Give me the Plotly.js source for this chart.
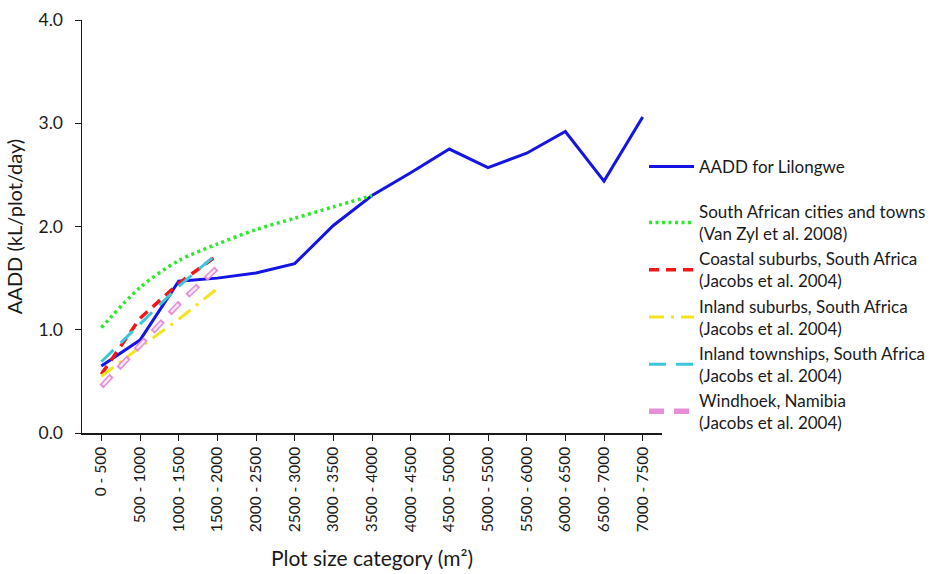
<!DOCTYPE html>
<html>
<head>
<meta charset="utf-8">
<script src="https://cdn.plot.ly/plotly-3.0.1.min.js"></script>
<style>
  html, body { margin: 0; padding: 0; background: #ffffff; }
  #chart { width: 939px; height: 574px; }
</style>
</head>
<body>
<div id="chart"></div>
<script>
// Plot size categories (m²)
const categories = [
  "0 - 500", "500 - 1000", "1000 - 1500", "1500 - 2000", "2000 - 2500",
  "2500 - 3000", "3000 - 3500", "3500 - 4000", "4000 - 4500", "4500 - 5000",
  "5000 - 5500", "5500 - 6000", "6000 - 6500", "6500 - 7000", "7000 - 7500"
];

// Average annual daily demand, kL/plot/day
const lilongwe = [0.65, 0.90, 1.47, 1.50, 1.55, 1.64, 2.01, 2.30, 2.52, 2.75, 2.57, 2.71, 2.92, 2.44, 3.06];
const saCitiesTowns = [1.02, 1.41, 1.67, 1.83, 1.97, 2.08, 2.19, 2.30];
const coastalSuburbs = [0.57, 1.11, 1.45, 1.72];
const inlandSuburbs = [0.55, 0.83, 1.10, 1.40];
const inlandTownships = [0.69, 1.05, 1.42, 1.74];
const windhoek = [0.45, 0.85, 1.25, 1.60];

const yTicks = [0, 1, 2, 3, 4];

const FONT = "Lato, 'Open Sans', sans-serif";

function xs(vals) { return categories.slice(0, vals.length); }

const traces = [
  {
    x: xs(lilongwe), y: lilongwe, type: "scatter", mode: "lines",
    name: "AADD for Lilongwe", legendgroup: "a",
    line: { color: "#1414e6", width: 3 }
  },
  {
    x: xs(saCitiesTowns), y: saCitiesTowns, type: "scatter", mode: "lines",
    name: "South African cities and towns<br>(Van Zyl et al. 2008)", legendgroup: "b",
    line: { color: "#2ee82e", width: 3.5, dash: "3px,3.5px", shape: "spline", smoothing: 0.8 }
  },
  {
    x: xs(coastalSuburbs), y: coastalSuburbs, type: "scatter", mode: "lines",
    name: "Coastal suburbs, South Africa<br>(Jacobs et al. 2004)", legendgroup: "b",
    line: { color: "#f01818", width: 3.5, dash: "10px,7px" }
  },
  {
    x: xs(inlandSuburbs), y: inlandSuburbs, type: "scatter", mode: "lines",
    name: "Inland suburbs, South Africa<br>(Jacobs et al. 2004)", legendgroup: "b",
    line: { color: "#f2e41e", width: 3, dash: "15px,7px,3px,7px" }
  },
  {
    x: xs(inlandTownships), y: inlandTownships, type: "scatter", mode: "lines",
    name: "Inland townships, South Africa<br>(Jacobs et al. 2004)", legendgroup: "b",
    line: { color: "#3cc6dc", width: 3, dash: "17px,10px" }
  },
  // Windhoek: outlined dashes (pink rim with pale fill)
  {
    x: xs(windhoek), y: windhoek, type: "scatter", mode: "lines",
    name: "Windhoek, Namibia<br>(Jacobs et al. 2004)", legendgroup: "b",
    line: { color: "#e68ed6", width: 5.5, dash: "15px,10px" }
  },
  {
    x: xs(windhoek), y: windhoek, type: "scatter", mode: "lines",
    name: "Windhoek fill", showlegend: false, hoverinfo: "skip",
    line: { color: "#fde6f6", width: 2.5, dash: "0.1px,2px,10.9px,12px" }
  }
];

const layout = {
  width: 939, height: 574,
  paper_bgcolor: "#ffffff", plot_bgcolor: "#ffffff",
  margin: { l: 82, r: 277, t: 20, b: 141, autoexpand: false },
  font: { family: FONT, size: 16, color: "#1a1a1a" },
  showlegend: true,
  legend: {
    x: 0.969, xanchor: "left", y: 0.688, yanchor: "top",
    traceorder: "grouped", tracegroupgap: 20, itemwidth: 45,
    bgcolor: "rgba(0,0,0,0)", font: { family: FONT, size: 17, color: "#1a1a1a" }
  },
  xaxis: {
    type: "category", categoryorder: "array", categoryarray: categories,
    range: [-0.5, 14.5], tickangle: -90,
    showline: true, linecolor: "#1a1a1a", linewidth: 1.5,
    ticks: "outside", ticklen: 6, tickcolor: "#1a1a1a",
    showgrid: false, zeroline: false,
    tickfont: { family: FONT, size: 15.5 },
    title: { text: "Plot size category (m²)", font: { family: FONT, size: 21 }, standoff: 20 }
  },
  yaxis: {
    range: [0, 4], tickvals: yTicks, tickformat: ".1f",
    showline: true, linecolor: "#1a1a1a", linewidth: 1.5,
    ticks: "outside", ticklen: 6, tickcolor: "#1a1a1a",
    ticklabelstandoff: 8,
    showgrid: false, zeroline: false,
    tickfont: { family: FONT, size: 17.5 },
    title: { text: "AADD (kL/plot/day)", font: { family: FONT, size: 20 }, standoff: 10 }
  }
};

Plotly.newPlot("chart", traces, layout, { staticPlot: true, displayModeBar: false });
</script>
</body>
</html>
